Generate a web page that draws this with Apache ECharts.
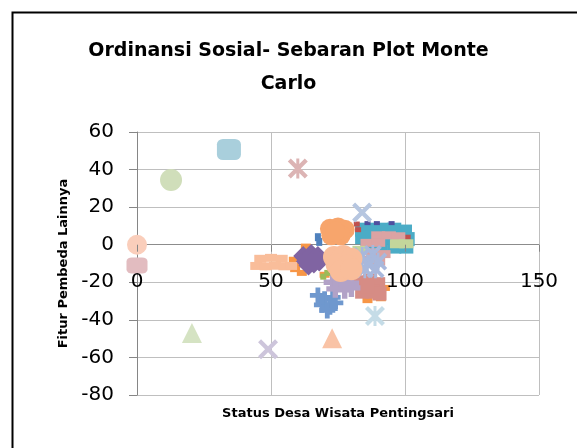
<!DOCTYPE html>
<html>
<head>
<meta charset="utf-8">
<script src="https://cdn.jsdelivr.net/npm/echarts@6/dist/echarts.min.js"></script>
<style>
  html, body { margin: 0; padding: 0; background: #fff; }
  #chart { width: 577px; height: 448px; }
</style>
</head>
<body>
<div id="chart"></div>
<script>
// axis ticks
const xTicks = [0, 50, 100, 150]
const yTicks = [-80, -60, -40, -20, 0, 20, 40, 60]

// reference / anchor points
const refCirclePeach = [[0, 0]]
const refSquareMauve = [[0, -11]]
const refCircleGreen = [[12.7, 34.5]]
const refSquareBlue = [[34.3, 50.7]]
const refStarPink = [[60, 40.6]]
const refTriangleGreen = [[20.5, -47]]
const refCrossLavender = [[48.9, -55.6]]
const refTrianglePeach = [[72.8, -49.8]]
const refStarBlue = [[88.8, -38]]
const refCrossBlue = [[84, 17.2]]

// monte carlo scatter
const peachBar = [[46, -7.5], [50, -7], [54, -7.5], [44.5, -11.3], [48, -11.5], [51.5, -11.2], [55, -11.5], [57.5, -11.3]]
const orangeDash = [[58.5, -8], [59, -13], [61.5, -15], [63, -1], [60, -10.5], [81, -22], [92.5, -23], [86, -29.5], [91, -28.5], [70, -16]]
const salmon = [[83, -20], [87, -19], [90, -21], [84, -25], [88, -25], [90.5, -26], [86, -22]]
const bluePlus = [[67.5, -27], [70, -29], [73, -28], [69, -32], [72, -33], [74, -31], [71, -35]]
const lavenderPlus = [[73, -20], [76, -19.5], [79.5, -20.5], [74, -23.5], [77.5, -24], [80, -23]]
const greenDash = [[69.5, -17], [71, -15]]
const teal = [[84, 8], [88, 8], [92, 8], [96, 8], [100, 7], [101, 3], [100.5, -1], [96, -1], [91, -1], [86, 0], [84, 4], [92, 4], [96, 4], [88, 4]]
const redDash = [[82, 11], [82.5, 8], [101, 4]]
const navyDash = [[86, 11.5], [89.5, 11.5], [95, 11.5]]
const blueDash = [[67.5, 4], [68, 1.5]]
const pinkRect = [[90, 5], [94, 5], [97.5, 4.5], [86, 1], [90, 1], [88, -4], [92, -5], [86, -8], [90, -9]]
const lightGreen = [[97, 0.5], [100.5, 0.5], [79, -5], [81, -9], [83, -3]]
const periwinkle = [[84, -6], [88, -5], [86, -10], [90, -9], [85, -13], [89, -13]]
const purple = [[62, -6], [65, -5], [67.5, -6], [63, -9], [66, -10], [68, -9], [64, -11]]
const orangeCircle = [[72, 8.5], [75, 9.2], [77.5, 8], [72.5, 5], [76, 5], [74, 7]]
const peachCircle = [[73.5, -6.5], [77, -6], [80, -7.5], [74.5, -10.5], [78.5, -11], [76, -14], [80, -13]]

const X_PATH = 'path://M0,3L3,0L10,7L17,0L20,3L13,10L20,17L17,20L10,13L3,20L0,17L7,10Z'
const STAR_PATH = X_PATH + 'M8.5,0L11.5,0L11.5,20L8.5,20Z'
const PLUS_PATH = 'path://M7,0L13,0L13,7L20,7L20,13L13,13L13,20L7,20L7,13L0,13L0,7L7,7Z'

function sc(data, symbol, size, color) {
    return {
        type: 'scatter',
        data: data,
        symbol: symbol,
        symbolSize: size,
        itemStyle: { color: color, opacity: 1 },
        silent: true
    }
}

const series = [
    sc(orangeDash, 'rect', [10, 6], '#f79646'),
    sc(salmon, 'rect', 14, '#d68c85'),
    sc(bluePlus, PLUS_PATH, 16, '#6f98ce'),
    sc(lavenderPlus, PLUS_PATH, 18, '#b2a2c7'),
    sc(greenDash, 'rect', [6, 6], '#9bbb59'),
    sc(teal, 'rect', 14, '#4bacc6'),
    sc(redDash, 'rect', [6, 5], '#c0504d'),
    sc(navyDash, 'rect', [6, 4], '#4f4f9f'),
    sc(blueDash, 'rect', [6, 8], '#4f81bd'),
    sc(pinkRect, 'rect', [14, 8], '#dba3a3'),
    sc(lightGreen, 'rect', [14, 9], '#c3d69b'),
    sc(periwinkle, STAR_PATH, 18, '#a8b8dc'),
    sc(purple, 'diamond', 20, '#8064a2'),
    sc(orangeCircle, 'circle', 20, '#f7a56c'),
    sc(peachCircle, 'circle', 22, '#f9bd9a'),
    sc(peachBar, 'rect', [12, 8], '#f9bd9a'),
    sc(refCirclePeach, 'circle', 20, '#facebb'),
    sc(refSquareMauve, 'roundRect', [21, 16], '#e2bcc0'),
    sc(refCircleGreen, 'circle', 22, '#d0deba'),
    sc(refSquareBlue, 'roundRect', [24, 21], '#a9cfdc'),
    sc(refStarPink, STAR_PATH, 20, '#dcb4b4'),
    sc(refTriangleGreen, 'triangle', 20, '#d5e3c3'),
    sc(refCrossLavender, X_PATH, 20, '#cdc5db'),
    sc(refTrianglePeach, 'triangle', 20, '#f9c3a6'),
    sc(refStarBlue, STAR_PATH, 20, '#c5dce7'),
    sc(refCrossBlue, X_PATH, 20, '#b6c6e0')
]

const chart = echarts.init(document.getElementById('chart'))

const FONT = 'DejaVu Sans'
const GRID_H = 263
const yMin = yTicks[0], yMax = yTicks[yTicks.length - 1]
// lift the labelled x axis up to the y = 0 line
const zeroOffset = -GRID_H * (0 - yMin) / (yMax - yMin)
const xScale = { type: 'value', min: xTicks[0], max: xTicks[xTicks.length - 1], interval: xTicks[1] - xTicks[0] }
// darker line where the horizontal axis crosses (y = 0)
const hGridColors = yTicks.map(v => v === 0 ? '#8c8c8c' : '#bfbfbf')

const option = {
    animation: false,
    backgroundColor: '#fff',
    title: {
        text: 'Ordinansi Sosial- Sebaran Plot Monte\nCarlo',
        left: 'center',
        top: 30,
        textStyle: { fontFamily: FONT, fontWeight: 'bold', fontSize: 19, lineHeight: 33, color: '#000' }
    },
    graphic: [{
        type: 'rect',
        shape: { x: 12.5, y: 12.5, width: 640, height: 500 },
        style: { fill: 'none', stroke: '#000', lineWidth: 2 },
        silent: true
    }],
    grid: { left: 137, top: 132, width: 402, height: GRID_H, containLabel: false, outerBoundsMode: 'none' },
    xAxis: [
        // tick labels on the zero line, drawn above the markers
        Object.assign({}, xScale, {
            position: 'bottom',
            offset: zeroOffset,
            z: 10,
            axisLine: { show: false, onZero: false },
            axisTick: { show: true, inside: false, length: 7, lineStyle: { color: '#868686' } },
            splitLine: { show: false },
            axisLabel: { show: true, margin: 27, fontFamily: FONT, fontSize: 20, color: '#000' }
        }),
        // vertical gridlines and axis title, below the markers
        Object.assign({}, xScale, {
            position: 'bottom',
            z: 0,
            axisLine: { show: false, onZero: false },
            axisTick: { show: false },
            axisLabel: { show: false },
            splitLine: { show: true, lineStyle: { color: '#bfbfbf', width: 1 } },
            name: 'Status Desa Wisata Pentingsari',
            nameLocation: 'middle',
            nameGap: 12,
            nameTextStyle: { fontFamily: FONT, fontWeight: 'bold', fontSize: 13, color: '#000' }
        })
    ],
    yAxis: {
        type: 'value',
        min: yMin,
        max: yMax,
        interval: yTicks[1] - yTicks[0],
        axisLine: { show: true, onZero: false, lineStyle: { color: '#868686', width: 1 } },
        axisTick: { show: true, inside: false, length: 8, lineStyle: { color: '#868686' } },
        axisLabel: { margin: 23, fontFamily: FONT, fontSize: 20, color: '#000' },
        splitLine: { show: true, lineStyle: { color: hGridColors, width: 1 } },
        name: 'Fitur Pembeda Lainnya',
        nameLocation: 'middle',
        nameGap: 66,
        nameTextStyle: { fontFamily: FONT, fontWeight: 'bold', fontSize: 13, color: '#000' }
    },
    series: series
}

chart.setOption(option)
</script>
</body>
</html>
